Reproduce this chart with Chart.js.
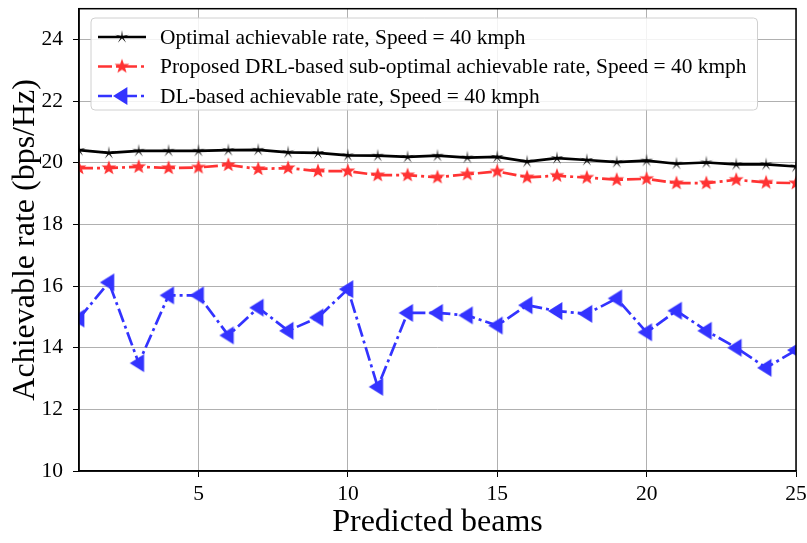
<!DOCTYPE html>
<html>
<head>
<meta charset="utf-8">
<script src="https://cdn.jsdelivr.net/npm/chart.js@4/dist/chart.umd.min.js"></script>
<style>
  html, body { margin: 0; padding: 0; background: #fff; }
  #wrap { width: 807px; height: 543px; position: relative; }
</style>
</head>
<body>
<div id="wrap"><canvas id="rateChart" width="807" height="543"></canvas></div>
<script>
// Chart data
const beams = [1, 2, 3, 4, 5, 6, 7, 8, 9, 10, 11, 12, 13, 14, 15, 16, 17, 18, 19, 20, 21, 22, 23, 24, 25];

const optimalRate = [20.41, 20.32, 20.39, 20.39, 20.39, 20.41, 20.42, 20.34, 20.32, 20.24, 20.23, 20.19, 20.23, 20.17, 20.19, 20.04, 20.15, 20.09, 20.02, 20.07, 19.97, 20.01, 19.95, 19.95, 19.88];
const drlRate = [19.83, 19.83, 19.87, 19.83, 19.85, 19.93, 19.80, 19.83, 19.73, 19.73, 19.60, 19.60, 19.53, 19.63, 19.72, 19.53, 19.58, 19.52, 19.45, 19.48, 19.34, 19.34, 19.45, 19.36, 19.34];
const dlRate = [14.95, 16.12, 13.50, 15.70, 15.70, 14.40, 15.30, 14.55, 14.98, 15.90, 12.73, 15.13, 15.13, 15.05, 14.72, 15.38, 15.19, 15.10, 15.60, 14.50, 15.20, 14.55, 14.00, 13.35, 13.92];

const xTicks = [5, 10, 15, 20, 25];
const yTicks = [10, 12, 14, 16, 18, 20, 22, 24];

const labels = [
    'Optimal achievable rate, Speed = 40 kmph',
    'Proposed DRL-based sub-optimal achievable rate, Speed = 40 kmph',
    'DL-based achievable rate, Speed = 40 kmph'
];

const FONT = '"Liberation Serif", "Times New Roman", serif';
const BLACK = '#000000';
const RED = '#ff3333';
const BLUE = '#3333ff';

// Marker images
function starMarker(color, outer, inner) {
    const size = Math.ceil(outer * 2 + 2);
    const c = document.createElement('canvas');
    c.width = size;
    c.height = size;
    const g = c.getContext('2d');
    const cx = size / 2, cy = size / 2;
    g.beginPath();
    for (let i = 0; i < 10; i++) {
        const r = i % 2 === 0 ? outer : inner;
        const a = -Math.PI / 2 + i * Math.PI / 5;
        const px = cx + r * Math.cos(a);
        const py = cy + r * Math.sin(a);
        if (i === 0) g.moveTo(px, py); else g.lineTo(px, py);
    }
    g.closePath();
    g.fillStyle = color;
    g.fill();
    return c;
}

function leftTriangle(color, r) {
    const size = Math.ceil(r * 2 + 2);
    const c = document.createElement('canvas');
    c.width = size;
    c.height = size;
    const g = c.getContext('2d');
    const cx = size / 2, cy = size / 2;
    g.beginPath();
    g.moveTo(cx - r, cy);
    g.lineTo(cx + r * 0.6, cy - r);
    g.lineTo(cx + r * 0.6, cy + r);
    g.closePath();
    g.fillStyle = color;
    g.fill();
    return c;
}

const blackStar = starMarker(BLACK, 7, 1.3);
const redStar = starMarker(RED, 7.8, 3.2);
const blueTri = leftTriangle(BLUE, 9);

const dashDot = [14, 4, 3, 4];

// Frame + in-plot legend
const framePlugin = {
    id: 'frame',
    afterDraw(chart) {
        const { ctx, chartArea } = chart;
        ctx.save();
        ctx.strokeStyle = '#000';
        ctx.lineWidth = 1.5;
        ctx.strokeRect(chartArea.left, chartArea.top, chartArea.right - chartArea.left, chartArea.bottom - chartArea.top);

        // legend
        const rows = [
            { text: labels[0], color: BLACK, dash: [], marker: blackStar },
            { text: labels[1], color: RED, dash: dashDot, marker: redStar },
            { text: labels[2], color: BLUE, dash: dashDot, marker: blueTri }
        ];
        ctx.font = '21.4px ' + FONT;
        let maxW = 0;
        rows.forEach(r => { maxW = Math.max(maxW, ctx.measureText(r.text).width); });
        const bx = 91, by = 18, bh = 92;
        const bw = 160 - bx + maxW + 11;
        ctx.beginPath();
        ctx.roundRect(bx, by, bw, bh, 4);
        ctx.fillStyle = 'rgba(255,255,255,0.85)';
        ctx.fill();
        ctx.strokeStyle = '#d0d0d0';
        ctx.lineWidth = 1;
        ctx.stroke();
        rows.forEach((r, i) => {
            const y = 37 + i * 29.5;
            ctx.beginPath();
            ctx.setLineDash(r.dash);
            ctx.strokeStyle = r.color;
            ctx.lineWidth = 2.7;
            ctx.moveTo(98, y);
            ctx.lineTo(146, y);
            ctx.stroke();
            ctx.setLineDash([]);
            ctx.drawImage(r.marker, 122 - r.marker.width / 2, y - r.marker.height / 2);
            ctx.fillStyle = '#000';
            ctx.textBaseline = 'middle';
            ctx.textAlign = 'left';
            ctx.fillText(r.text, 160, y + 1);
        });
        ctx.restore();
    }
};

function makeSeries(label, data, color, dash, marker) {
    return {
        label: label,
        data: beams.map((b, i) => ({ x: b, y: data[i] })),
        borderColor: color,
        backgroundColor: color,
        borderWidth: 2.7,
        borderDash: dash,
        pointStyle: marker,
        pointRadius: 6,
        pointHoverRadius: 6,
        tension: 0,
        fill: false
    };
}

const ctx = document.getElementById('rateChart').getContext('2d');
const chart = new Chart(ctx, {
    type: 'line',
    data: {
        datasets: [
            makeSeries(labels[2], dlRate, BLUE, dashDot, blueTri),
            makeSeries(labels[1], drlRate, RED, dashDot, redStar),
            makeSeries(labels[0], optimalRate, BLACK, [], blackStar)
        ]
    },
    options: {
        responsive: false,
        animation: false,
        layout: { padding: { top: 8, right: 11, left: 0, bottom: 0 } },
        plugins: {
            legend: { display: false },
            tooltip: { enabled: false }
        },
        scales: {
            x: {
                type: 'linear',
                min: 1,
                max: 25,
                afterBuildTicks: axis => { axis.ticks = xTicks.map(v => ({ value: v })); },
                afterFit: axis => { axis.height = 72; axis.paddingLeft = 0; axis.paddingRight = 0; },
                grid: { color: '#b0b0b0', lineWidth: 1, tickColor: '#000', tickLength: 6 },
                border: { color: '#000', width: 1.5 },
                ticks: { color: '#000', font: { family: FONT, size: 21.5 }, padding: 4, maxRotation: 0 },
                title: { display: true, text: 'Predicted beams', color: '#000', font: { family: FONT, size: 32 }, padding: { top: 0, bottom: 1 } }
            },
            y: {
                min: 10,
                max: 25,
                afterBuildTicks: axis => { axis.ticks = yTicks.map(v => ({ value: v })); },
                afterFit: axis => { axis.width = 79; axis.paddingTop = 0; axis.paddingBottom = 0; },
                grid: { color: '#b0b0b0', lineWidth: 1, tickColor: '#000', tickLength: 6 },
                border: { color: '#000', width: 1.5 },
                ticks: { color: '#000', font: { family: FONT, size: 21.5 }, padding: 10 },
                title: { display: true, text: 'Achievable rate (bps/Hz)', color: '#000', font: { family: FONT, size: 32 }, padding: { top: 6, bottom: 0 } }
            }
        }
    },
    plugins: [framePlugin]
});
</script>
</body>
</html>
